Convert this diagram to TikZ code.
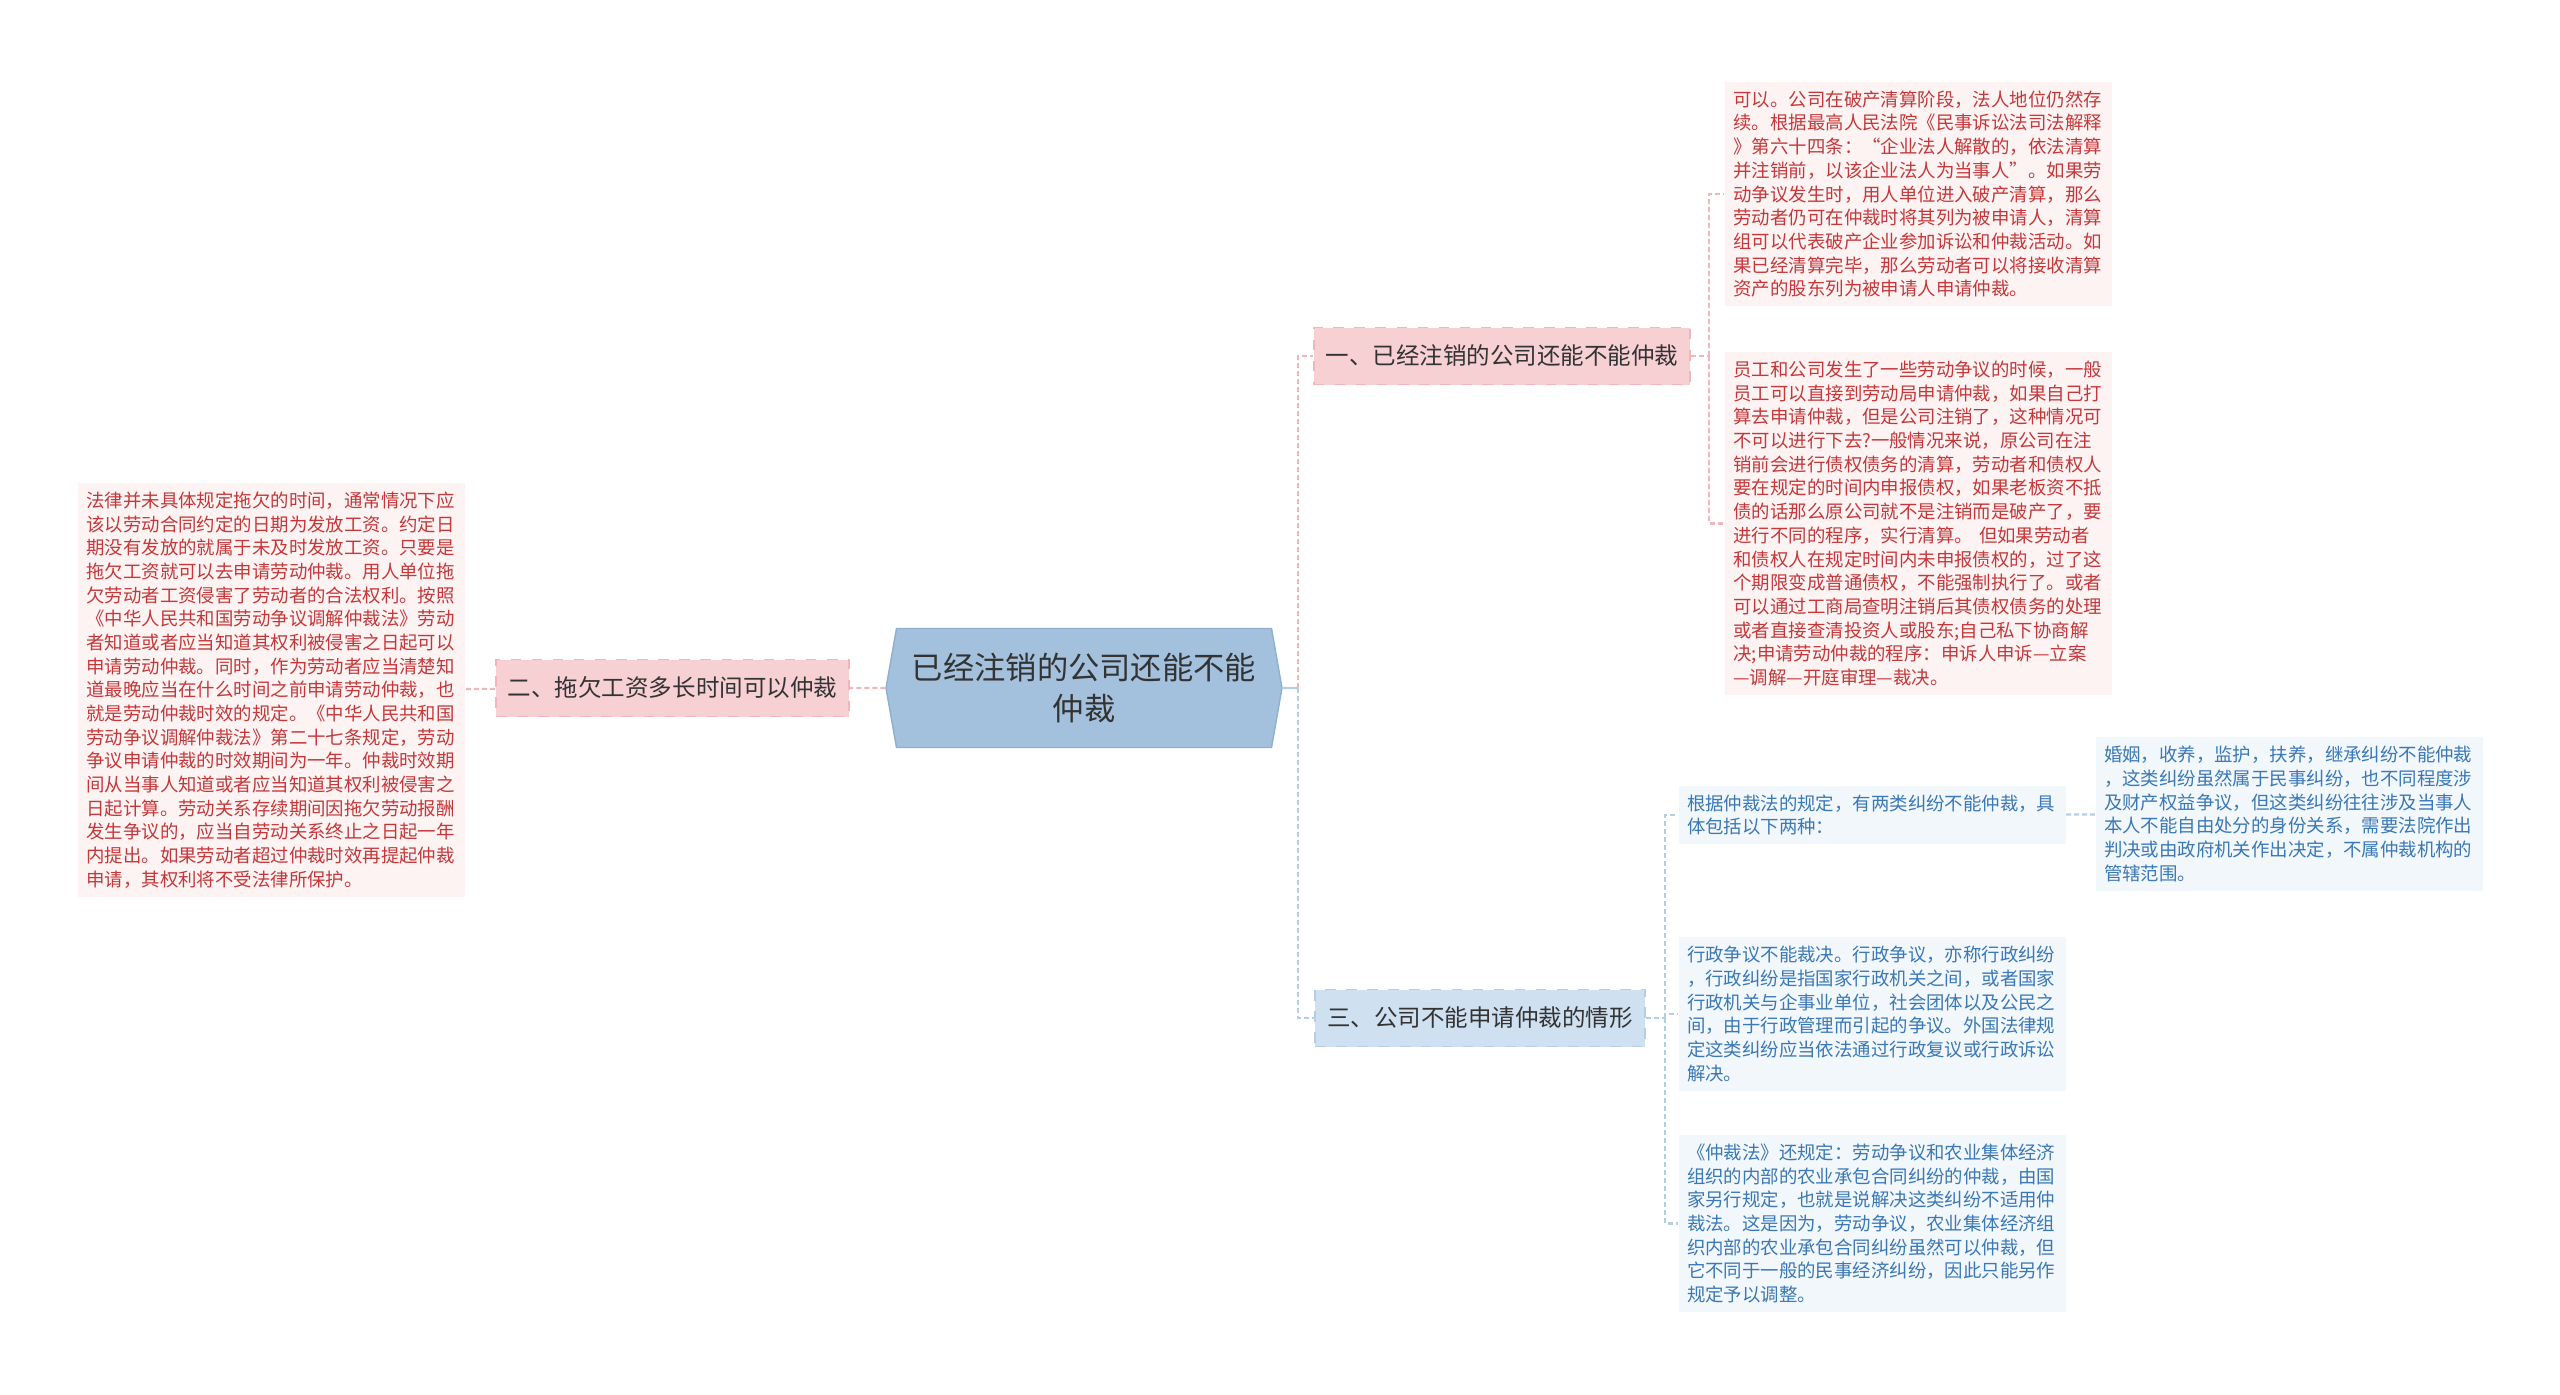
\documentclass[tikz,border=0pt]{standalone}
\usepackage{fontspec}
\setmainfont{Noto Sans CJK SC}
\usetikzlibrary{shapes.symbols}

\definecolor{topicfill}{HTML}{A3C0DC}
\definecolor{topicline}{HTML}{8DB0D2}
\definecolor{inkdark}{HTML}{333333}
\definecolor{rosefill}{HTML}{F6D0D3}
\definecolor{roseline}{HTML}{F0B6BA}
\definecolor{rosepaper}{HTML}{FDF3F3}
\definecolor{roseink}{HTML}{C4383A}
\definecolor{skyfill}{HTML}{CFE0F0}
\definecolor{skyline}{HTML}{B6CEE5}
\definecolor{skypaper}{HTML}{F2F7FC}
\definecolor{skyink}{HTML}{3A78B6}

\tikzset{
  topic/.style={signal, signal to=west and east, signal pointer angle=160,
    fill=topicfill, draw=topicline, minimum width=3.96cm, minimum height=1.19cm,
    inner sep=0pt, align=center, text=inkdark, font=\fontsize{8.9}{11.7}\selectfont},
  rosebranch/.style={rectangle, fill=rosefill, draw=roseline, dashed, line width=0.5pt,
    minimum height=0.57cm, inner xsep=0.12cm, text=inkdark, font=\fontsize{6.69}{8}\selectfont},
  skybranch/.style={rosebranch, fill=skyfill, draw=skyline},
  rosenote/.style={rectangle, fill=rosepaper, text width=3.70cm, inner xsep=0.085cm,
    inner ysep=0.09cm, align=left, text=roseink, font=\fontsize{5.24}{6.74}\selectfont},
  skynote/.style={rosenote, fill=skypaper, text=skyink},
  roselink/.style={draw=roseline, line width=0.6pt, dash pattern=on 0.05cm off 0.03cm},
  skylink/.style={roselink, draw=skyline},
}

\begin{document}
\begin{tikzpicture}
	\fill [white] (0,0) rectangle (25.6,-13.94);
	\useasboundingbox (0,0) rectangle (25.6,-13.94);

	\node [topic] (C) at (10.84, -6.88) {已经注销的公司还能不能\\仲裁};

	\node [rosebranch] (B1) at (15.02, -3.56) {一、已经注销的公司还能不能仲裁};
	\node [rosebranch] (B2) at (6.725, -6.88) {二、拖欠工资多长时间可以仲裁};
	\node [skybranch] (B3) at (14.80, -10.18) {三、公司不能申请仲裁的情形};

	\node [rosenote] (T1a) at (19.185, -1.94) {可以。公司在破产清算阶段，法人地位仍然存\\续。根据最高人民法院《民事诉讼法司法解释\\》第六十四条：“企业法人解散的，依法清算\\并注销前，以该企业法人为当事人”。如果劳\\动争议发生时，用人单位进入破产清算，那么\\劳动者仍可在仲裁时将其列为被申请人，清算\\组可以代表破产企业参加诉讼和仲裁活动。如\\果已经清算完毕，那么劳动者可以将接收清算\\资产的股东列为被申请人申请仲裁。};
	\node [rosenote] (T1b) at (19.185, -5.235) {员工和公司发生了一些劳动争议的时候，一般\\员工可以直接到劳动局申请仲裁，如果自己打\\算去申请仲裁，但是公司注销了，这种情况可\\不可以进行下去?一般情况来说，原公司在注\\销前会进行债权债务的清算，劳动者和债权人\\要在规定的时间内申报债权，如果老板资不抵\\债的话那么原公司就不是注销而是破产了，要\\进行不同的程序，实行清算。 但如果劳动者\\和债权人在规定时间内未申报债权的，过了这\\个期限变成普通债权，不能强制执行了。或者\\可以通过工商局查明注销后其债权债务的处理\\或者直接查清投资人或股东;自己私下协商解\\决;申请劳动仲裁的程序：申诉人申诉—立案\\—调解—开庭审理—裁决。};
	\node [rosenote] (T2) at (2.715, -6.90) {法律并未具体规定拖欠的时间，通常情况下应\\该以劳动合同约定的日期为发放工资。约定日\\期没有发放的就属于未及时发放工资。只要是\\拖欠工资就可以去申请劳动仲裁。用人单位拖\\欠劳动者工资侵害了劳动者的合法权利。按照\\《中华人民共和国劳动争议调解仲裁法》劳动\\者知道或者应当知道其权利被侵害之日起可以\\申请劳动仲裁。同时，作为劳动者应当清楚知\\道最晚应当在什么时间之前申请劳动仲裁，也\\就是劳动仲裁时效的规定。《中华人民共和国\\劳动争议调解仲裁法》第二十七条规定，劳动\\争议申请仲裁的时效期间为一年。仲裁时效期\\间从当事人知道或者应当知道其权利被侵害之\\日起计算。劳动关系存续期间因拖欠劳动报酬\\发生争议的，应当自劳动关系终止之日起一年\\内提出。如果劳动者超过仲裁时效再提起仲裁\\申请，其权利将不受法律所保护。};

	\node [skynote] (T3a) at (18.72, -8.15) {根据仲裁法的规定，有两类纠纷不能仲裁，具\\体包括以下两种：};
	\node [skynote] (T3a1) at (22.89, -8.14) {婚姻，收养，监护，扶养，继承纠纷不能仲裁\\，这类纠纷虽然属于民事纠纷，也不同程度涉\\及财产权益争议，但这类纠纷往往涉及当事人\\本人不能自由处分的身份关系，需要法院作出\\判决或由政府机关作出决定，不属仲裁机构的\\管辖范围。};
	\node [skynote] (T3b) at (18.72, -10.14) {行政争议不能裁决。行政争议，亦称行政纠纷\\，行政纠纷是指国家行政机关之间，或者国家\\行政机关与企事业单位，社会团体以及公民之\\间，由于行政管理而引起的争议。外国法律规\\定这类纠纷应当依法通过行政复议或行政诉讼\\解决。};
	\node [skynote] (T3c) at (18.72, -12.235) {《仲裁法》还规定：劳动争议和农业集体经济\\组织的内部的农业承包合同纠纷的仲裁，由国\\家另行规定，也就是说解决这类纠纷不适用仲\\裁法。这是因为，劳动争议，农业集体经济组\\织内部的农业承包合同纠纷虽然可以仲裁，但\\它不同于一般的民事经济纠纷，因此只能另作\\规定予以调整。};

	% junctions
	\coordinate (J1) at (12.98, -6.88);
	\coordinate (J2) at (17.09, -3.56);
	\coordinate (J3) at (16.65, -10.18);

	\draw [roselink] (C) -- (B2);
	\draw [roselink] (B2) -- (T2);
	\draw [skylink, solid] (C) -- (J1);
	\draw [roselink] (J1) |- (B1);
	\draw [skylink] (J1) |- (B3);
	\draw [roselink] (B1) -- (J2);
	\draw [roselink] (J2) |- (T1a);
	\draw [roselink] (J2) |- (T1b);
	\draw [skylink] (B3) -- (J3);
	\draw [skylink] (J3) |- (T3a);
	\draw [skylink] (J3) |- (T3b);
	\draw [skylink] (J3) |- (T3c);
	\draw [skylink] (T3a) -- (T3a1);
\end{tikzpicture}
\end{document}
